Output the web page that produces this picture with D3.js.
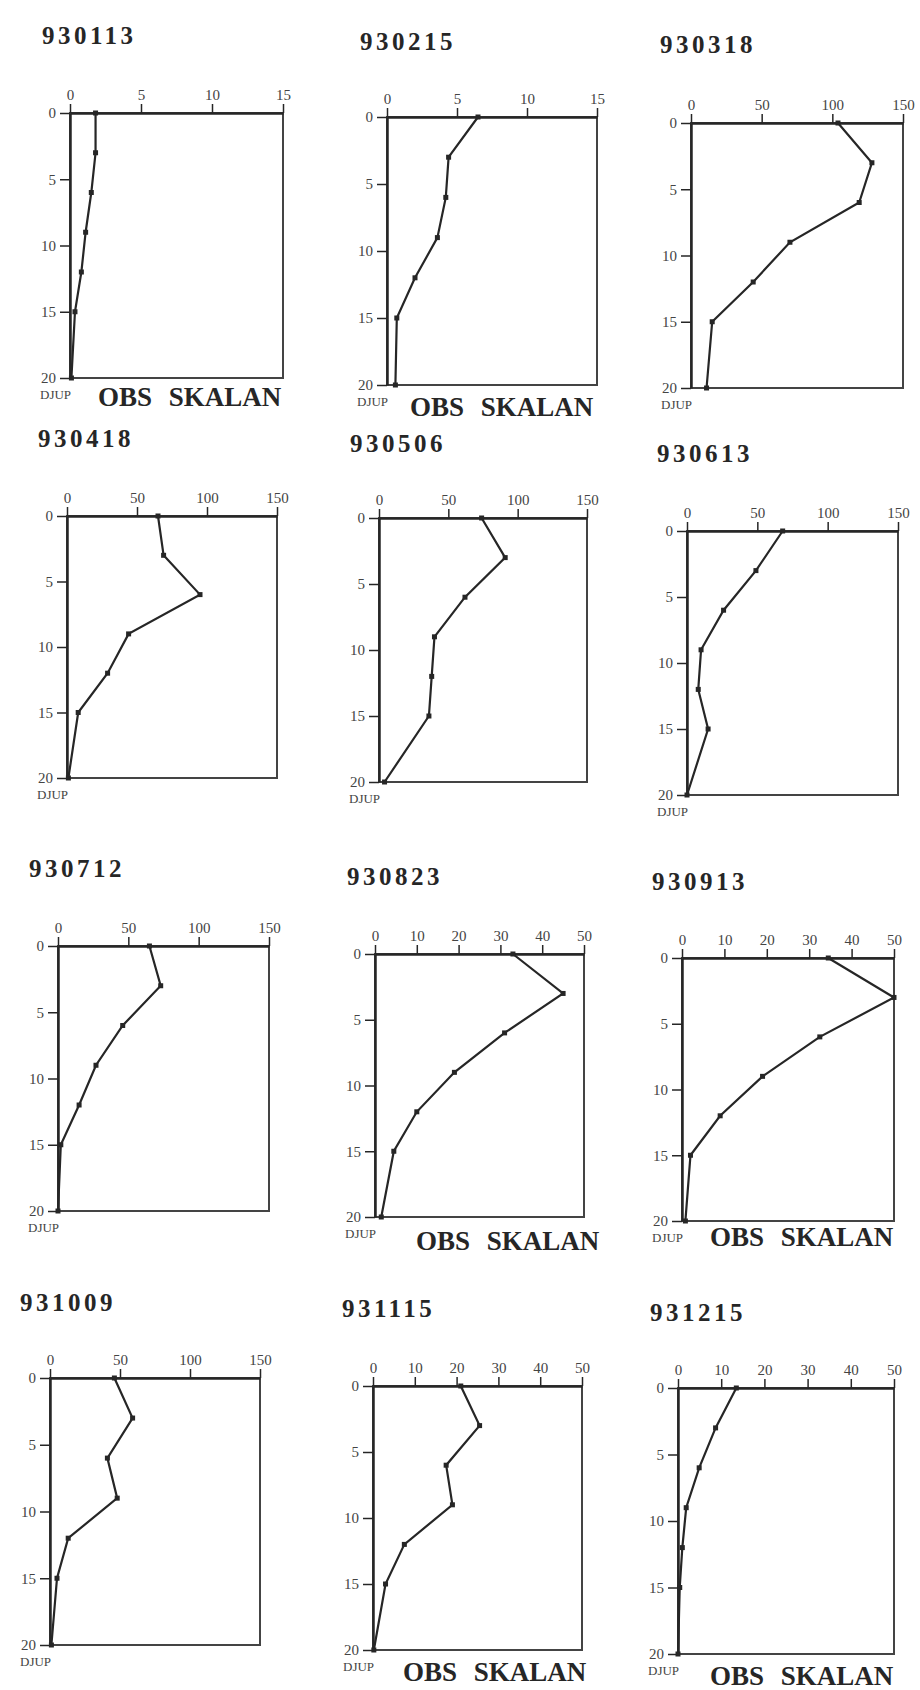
<!DOCTYPE html>
<html>
<head>
<meta charset="utf-8">
<script src="https://cdn.jsdelivr.net/npm/d3@7"></script>
<style>
  body { margin: 0; background: #fff; }
  svg text { font-family: "Liberation Serif", "DejaVu Serif", serif; }
</style>
</head>
<body>
<svg id="chart" width="920" height="1690"></svg>
<script>
// Sampling depths (m), same for every profile
const depths = [0, 3, 6, 9, 12, 15, 20];
const depthTicks = [0, 5, 10, 15, 20];

// Profile dates, in panel order
const dates = ["930113", "930215", "930318", "930418", "930506", "930613",
               "930712", "930823", "930913", "931009", "931115", "931215"];

// Top axis maximum per panel (note: scales differ, hence "OBS SKALAN")
const scaleMax = [15, 15, 150, 150, 150, 150, 150, 50, 50, 150, 50, 50];
const ticks15 = [0, 5, 10, 15];
const ticks150 = [0, 50, 100, 150];
const ticks50 = [0, 10, 20, 30, 40, 50];

// Values, one per depth
const v930113 = [1.8, 1.8, 1.5, 1.1, 0.8, 0.35, 0.1];
const v930215 = [6.5, 4.4, 4.2, 3.6, 2.0, 0.7, 0.6];
const v930318 = [104, 128, 119, 70, 44, 15, 11];
const v930418 = [65, 69, 95, 44, 29, 8, 1];
const v930506 = [74, 91, 62, 40, 38, 36, 4];
const v930613 = [68, 49, 26, 10, 8, 15, 0];
const v930712 = [65, 73, 46, 27, 15, 2, 0];
const v930823 = [33, 45, 31, 19, 10, 4.5, 1.5];
const v930913 = [34.5, 50, 32.5, 19, 9, 2, 0.8];
const v931009 = [46, 59, 41, 48, 13, 5, 1];
const v931115 = [21, 25.5, 17.5, 19, 7.5, 3, 0.2];
const v931215 = [13.5, 8.7, 4.9, 1.9, 1.0, 0.4, 0];

const values = [v930113, v930215, v930318, v930418, v930506, v930613,
                v930712, v930823, v930913, v931009, v931115, v931215];

// Panel frames and label positions (layout only)
const layout = [
  { x0: 70,  x1: 283, y0: 113,  y1: 378,  tx: 42,  ty: 44,   obs: [28, 28] },
  { x0: 387, x1: 597, y0: 117,  y1: 385,  tx: 360, ty: 50,   obs: [23, 31] },
  { x0: 691, x1: 903, y0: 123,  y1: 388,  tx: 660, ty: 53,   obs: null },
  { x0: 67,  x1: 277, y0: 516,  y1: 778,  tx: 38,  ty: 447,  obs: null },
  { x0: 379, x1: 587, y0: 518,  y1: 782,  tx: 350, ty: 452,  obs: null },
  { x0: 687, x1: 898, y0: 531,  y1: 795,  tx: 657, ty: 462,  obs: null },
  { x0: 58,  x1: 269, y0: 946,  y1: 1211, tx: 29,  ty: 877,  obs: null },
  { x0: 375, x1: 584, y0: 954,  y1: 1217, tx: 347, ty: 885,  obs: [41, 33] },
  { x0: 682, x1: 894, y0: 958,  y1: 1221, tx: 652, ty: 890,  obs: [28, 25] },
  { x0: 50,  x1: 260, y0: 1378, y1: 1645, tx: 20,  ty: 1311, obs: null },
  { x0: 373, x1: 582, y0: 1386, y1: 1650, tx: 342, ty: 1317, obs: [30, 31] },
  { x0: 678, x1: 894, y0: 1388, y1: 1654, tx: 650, ty: 1321, obs: [32, 31] }
];

const ink = "#262626";
const svg = d3.select("#chart");

layout.forEach((p, i) => {
  const g = svg.append("g");
  const max = scaleMax[i];
  const xTicks = max === 15 ? ticks15 : (max === 50 ? ticks50 : ticks150);

  const x = d3.scaleLinear().domain([0, max]).range([p.x0, p.x1]);
  const y = d3.scaleLinear().domain([0, 20]).range([p.y0, p.y1]);

  // box
  g.append("rect")
    .attr("x", p.x0).attr("y", p.y0)
    .attr("width", p.x1 - p.x0).attr("height", p.y1 - p.y0)
    .attr("fill", "none")
    .attr("stroke", "#444")
    .attr("stroke-width", 2);

  // top axis (values)
  const ax = g.append("g")
    .attr("transform", `translate(0,${p.y0})`)
    .call(d3.axisTop(x).tickValues(xTicks).tickSize(9).tickSizeOuter(0).tickPadding(4));

  // left axis (depth)
  const ay = g.append("g")
    .attr("transform", `translate(${p.x0},0)`)
    .call(d3.axisLeft(y).tickValues(depthTicks).tickSize(10).tickSizeOuter(0).tickPadding(4));

  [ax, ay].forEach(a => {
    a.select(".domain").attr("stroke", ink).attr("stroke-width", 2.5);
    a.selectAll(".tick line").attr("stroke", ink).attr("stroke-width", 1.5);
    a.selectAll(".tick text")
      .attr("fill", "#444")
      .style("font-size", "15px")
      .style("font-family", "'Liberation Serif', serif");
  });

  // title
  g.append("text")
    .attr("x", p.tx).attr("y", p.ty)
    .attr("fill", ink)
    .style("font-size", "25px")
    .style("font-weight", "bold")
    .style("letter-spacing", "3.5px")
    .text(dates[i]);

  // profile line
  const pts = depths.map((d, k) => ({ d: d, v: values[i][k] }));
  g.append("path")
    .datum(pts)
    .attr("fill", "none")
    .attr("stroke", ink)
    .attr("stroke-width", 2.2)
    .attr("d", d3.line().x(d => x(d.v)).y(d => y(d.d)));

  g.selectAll("rect.pt")
    .data(pts)
    .enter()
    .append("rect")
    .attr("class", "pt")
    .attr("x", d => x(d.v) - 2.5)
    .attr("y", d => y(d.d) - 2.5)
    .attr("width", 5).attr("height", 5)
    .attr("fill", ink);

  // depth label
  g.append("text")
    .attr("x", p.x0 - 30).attr("y", p.y1 + 21)
    .attr("fill", "#444")
    .style("font-size", "13px")
    .text("DJUP");

  if (p.obs) {
    g.append("text")
      .attr("x", p.x0 + p.obs[0]).attr("y", p.y1 + p.obs[1])
      .attr("fill", ink)
      .style("font-size", "27px")
      .style("font-weight", "bold")
      .style("word-spacing", "10px")
      .text("OBS SKALAN");
  }
});
</script>
</body>
</html>
